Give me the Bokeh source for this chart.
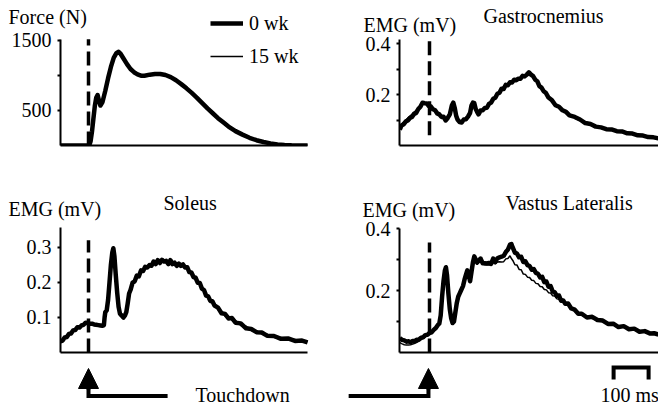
from bokeh.plotting import figure
from bokeh.layouts import column, row
from bokeh.models import (Range1d, FixedTicker, Label, Legend, LegendItem, Arrow,
                          NormalHead, GridBox)
from bokeh.embed import file_html
from bokeh.resources import INLINE

# ---------------- data (time in ms relative to touchdown) ----------------
force_t = [-80, 2, 6, 10, 14, 18, 22, 26, 30, 34,
           40, 48, 56, 64, 72, 80, 86, 92, 100, 110,
           120, 130, 140, 150, 160, 175, 190, 205, 220, 235,
           250, 265, 280, 295, 310, 325, 340, 355, 370, 385,
           400, 420, 440, 460, 480, 500, 520, 540, 560, 580,
           626]
force_0wk = [0, 0, 60, 200, 380, 560, 680, 720, 640, 570,
             620, 780, 960, 1120, 1250, 1320, 1335, 1305, 1240, 1160,
             1090, 1045, 1015, 995, 995, 1010, 1020, 1020, 1005, 975,
             930, 875, 815, 750, 680, 605, 530, 460, 390, 330,
             270, 205, 155, 110, 75, 50, 30, 15, 7, 2,
             0]
force_15wk = [0, 0, 50, 190, 370, 550, 670, 700, 630, 575,
              630, 790, 970, 1125, 1255, 1325, 1330, 1300, 1235, 1155,
              1085, 1040, 1010, 990, 990, 1005, 1015, 1015, 1000, 970,
              925, 870, 810, 745, 675, 600, 525, 455, 385, 325,
              265, 200, 150, 105, 72, 47, 28, 14, 6, 2,
              0]

gas_t = [-85, -80, -74, -68, -62, -56, -50, -44, -38, -32,
         -26, -20, -14, -8, -2, 4, 10, 16, 22, 28,
         34, 40, 46, 52, 58, 64, 68, 72, 76, 80,
         86, 92, 98, 104, 110, 116, 120, 124, 128, 132,
         136, 140, 146, 152, 158, 164, 170, 176, 182, 188,
         194, 200, 206, 212, 218, 224, 230, 236, 242, 248,
         254, 260, 266, 272, 278, 284, 290, 296, 302, 308,
         314, 320, 326, 332, 340, 350, 360, 370, 380, 390,
         400, 415, 430, 445, 460, 475, 490, 505, 520, 535,
         550, 565, 580, 595, 610, 625, 640, 654]
gas_0wk = [0.062, 0.078, 0.083, 0.094, 0.098, 0.108, 0.112, 0.124, 0.128, 0.143,
           0.152, 0.168, 0.166, 0.165, 0.155, 0.153, 0.142, 0.138, 0.126, 0.122,
           0.112, 0.113, 0.098, 0.108, 0.122, 0.158, 0.168, 0.148, 0.118, 0.102,
           0.092, 0.090, 0.102, 0.103, 0.113, 0.128, 0.157, 0.168, 0.166, 0.143,
           0.132, 0.122, 0.137, 0.138, 0.147, 0.148, 0.163, 0.168, 0.183, 0.187,
           0.203, 0.207, 0.223, 0.222, 0.238, 0.236, 0.248, 0.247, 0.258, 0.256,
           0.262, 0.262, 0.273, 0.271, 0.278, 0.287, 0.278, 0.272, 0.258, 0.252,
           0.233, 0.227, 0.213, 0.207, 0.188, 0.177, 0.158, 0.152, 0.138, 0.132,
           0.118, 0.112, 0.102, 0.088, 0.084, 0.074, 0.071, 0.064, 0.063, 0.056,
           0.055, 0.048, 0.047, 0.040, 0.039, 0.033, 0.032, 0.028]
gas_15wk = [0.070, 0.085, 0.092, 0.100, 0.108, 0.115, 0.122, 0.130, 0.138, 0.146,
            0.158, 0.163, 0.168, 0.162, 0.160, 0.148, 0.146, 0.134, 0.131, 0.118,
            0.116, 0.108, 0.102, 0.104, 0.128, 0.162, 0.172, 0.152, 0.121, 0.099,
            0.089, 0.094, 0.099, 0.106, 0.109, 0.132, 0.153, 0.172, 0.162, 0.147,
            0.128, 0.126, 0.133, 0.142, 0.143, 0.152, 0.158, 0.172, 0.178, 0.192,
            0.198, 0.212, 0.218, 0.227, 0.232, 0.242, 0.244, 0.252, 0.253, 0.262,
            0.258, 0.267, 0.268, 0.276, 0.273, 0.283, 0.282, 0.268, 0.262, 0.248,
            0.237, 0.222, 0.217, 0.203, 0.192, 0.173, 0.162, 0.148, 0.142, 0.128,
            0.122, 0.108, 0.098, 0.092, 0.080, 0.078, 0.068, 0.067, 0.060, 0.058,
            0.052, 0.050, 0.045, 0.042, 0.037, 0.035, 0.030, 0.029]

sol_t = [-80, -74, -68, -62, -56, -50, -44, -38, -32, -26,
         -20, -14, -8, -2, 4, 10, 16, 22, 28, 34,
         40, 44, 46, 48, 52, 56, 60, 64, 68, 71,
         74, 78, 82, 86, 90, 96, 100, 104, 108, 112,
         116, 120, 126, 132, 138, 144, 150, 156, 162, 168,
         174, 180, 186, 192, 198, 204, 210, 216, 222, 228,
         234, 240, 246, 252, 258, 264, 270, 276, 282, 288,
         294, 300, 306, 312, 318, 324, 330, 336, 342, 348,
         354, 360, 370, 380, 390, 400, 410, 420, 435, 450,
         465, 480, 495, 510, 530, 550, 570, 590, 610, 626]
sol_0wk = [0.032, 0.034, 0.043, 0.044, 0.053, 0.054, 0.063, 0.064, 0.072, 0.071,
           0.077, 0.079, 0.085, 0.084, 0.082, 0.082, 0.080, 0.079, 0.078, 0.077,
           0.076, 0.078, 0.100, 0.115, 0.120, 0.150, 0.200, 0.250, 0.285, 0.297,
           0.275, 0.220, 0.170, 0.130, 0.110, 0.105, 0.100, 0.105, 0.115, 0.140,
           0.168, 0.178, 0.199, 0.203, 0.219, 0.217, 0.234, 0.232, 0.244, 0.242,
           0.249, 0.247, 0.259, 0.252, 0.263, 0.255, 0.264, 0.259, 0.261, 0.252,
           0.263, 0.252, 0.256, 0.247, 0.253, 0.247, 0.251, 0.242, 0.243, 0.229,
           0.228, 0.215, 0.213, 0.199, 0.198, 0.182, 0.178, 0.162, 0.160, 0.147,
           0.146, 0.134, 0.128, 0.112, 0.110, 0.097, 0.098, 0.085, 0.083, 0.069,
           0.067, 0.058, 0.057, 0.048, 0.047, 0.039, 0.040, 0.033, 0.034, 0.029]
sol_15wk = [0.028, 0.036, 0.039, 0.047, 0.049, 0.057, 0.059, 0.067, 0.069, 0.074,
            0.074, 0.082, 0.081, 0.087, 0.079, 0.085, 0.077, 0.082, 0.075, 0.080,
            0.074, 0.076, 0.098, 0.112, 0.118, 0.148, 0.198, 0.248, 0.280, 0.292,
            0.270, 0.215, 0.165, 0.125, 0.105, 0.098, 0.095, 0.100, 0.112, 0.145,
            0.162, 0.183, 0.192, 0.208, 0.212, 0.224, 0.227, 0.238, 0.237, 0.248,
            0.243, 0.253, 0.252, 0.258, 0.257, 0.262, 0.257, 0.265, 0.256, 0.258,
            0.257, 0.258, 0.249, 0.253, 0.247, 0.253, 0.245, 0.248, 0.238, 0.235,
            0.222, 0.221, 0.207, 0.205, 0.192, 0.188, 0.172, 0.168, 0.154, 0.153,
            0.140, 0.140, 0.122, 0.118, 0.104, 0.103, 0.092, 0.091, 0.077, 0.075,
            0.063, 0.062, 0.053, 0.052, 0.043, 0.043, 0.036, 0.037, 0.031, 0.031]

vl_t = [-85, -78, -72, -66, -60, -54, -48, -42, -36, -30,
        -24, -18, -12, -6, 0, 6, 12, 18, 24, 28,
        32, 36, 40, 44, 47, 50, 54, 58, 62, 66,
        70, 74, 78, 82, 86, 90, 96, 100, 104, 108,
        112, 116, 120, 124, 128, 132, 136, 140, 146, 152,
        158, 164, 170, 176, 182, 188, 194, 200, 206, 212,
        218, 224, 230, 234, 238, 244, 250, 256, 262, 268,
        274, 280, 286, 292, 298, 304, 310, 316, 322, 328,
        334, 340, 346, 352, 358, 364, 370, 376, 382, 388,
        396, 405, 415, 425, 435, 450, 465, 480, 495, 510,
        525, 540, 555, 570, 585, 600, 615, 631, 642, 654]
vl_0wk = [0.046, 0.041, 0.039, 0.035, 0.036, 0.033, 0.037, 0.037, 0.041, 0.042,
          0.048, 0.049, 0.056, 0.057, 0.063, 0.065, 0.073, 0.079, 0.089, 0.093,
          0.120, 0.180, 0.230, 0.265, 0.275, 0.250, 0.190, 0.140, 0.110, 0.095,
          0.100, 0.130, 0.160, 0.180, 0.190, 0.200, 0.215, 0.235, 0.250, 0.265,
          0.250, 0.230, 0.260, 0.290, 0.310, 0.300, 0.290, 0.295, 0.303, 0.288,
          0.288, 0.287, 0.289, 0.286, 0.303, 0.292, 0.304, 0.307, 0.309, 0.312,
          0.324, 0.332, 0.348, 0.350, 0.338, 0.322, 0.319, 0.307, 0.309, 0.292,
          0.294, 0.282, 0.279, 0.267, 0.269, 0.257, 0.254, 0.242, 0.244, 0.227,
          0.229, 0.212, 0.214, 0.197, 0.194, 0.182, 0.184, 0.167, 0.168, 0.157,
          0.158, 0.142, 0.138, 0.125, 0.125, 0.113, 0.115, 0.105, 0.103, 0.092,
          0.093, 0.082, 0.085, 0.075, 0.077, 0.067, 0.069, 0.061, 0.062, 0.058]
vl_15wk = [0.032, 0.028, 0.025, 0.024, 0.024, 0.025, 0.027, 0.030, 0.033, 0.037,
           0.042, 0.046, 0.050, 0.055, 0.060, 0.066, 0.072, 0.080, 0.088, 0.094,
           0.118, 0.175, 0.225, 0.260, 0.270, 0.245, 0.185, 0.135, 0.105, 0.092,
           0.098, 0.128, 0.158, 0.178, 0.188, 0.198, 0.212, 0.232, 0.248, 0.260,
           0.245, 0.228, 0.255, 0.285, 0.305, 0.295, 0.285, 0.290, 0.295, 0.285,
           0.283, 0.284, 0.282, 0.284, 0.292, 0.286, 0.292, 0.293, 0.292, 0.293,
           0.302, 0.303, 0.312, 0.303, 0.297, 0.283, 0.282, 0.268, 0.267, 0.253,
           0.252, 0.243, 0.242, 0.233, 0.232, 0.223, 0.222, 0.213, 0.212, 0.203,
           0.202, 0.193, 0.192, 0.183, 0.182, 0.173, 0.172, 0.163, 0.164, 0.156,
           0.153, 0.143, 0.133, 0.126, 0.120, 0.114, 0.110, 0.106, 0.099, 0.094,
           0.089, 0.084, 0.081, 0.077, 0.073, 0.069, 0.065, 0.062, 0.060, 0.057]

force_ticks = [500, 1500]
force_minor = [1000]
gas_ticks = [0.2, 0.4]
gas_minor = [0.1, 0.3]
sol_ticks = [0.1, 0.2, 0.3]
vl_ticks = [0.2, 0.4]
vl_minor = [0.1, 0.3]
touchdown = 0
scale_ms = 100
series_labels = ["0 wk", "15 wk"]

# ---------------- styling / layout (page pixel geometry) ----------------
FONT = "Liberation Serif"
FS = "20px"
PX_MS = 0.35          # pixels per ms on the time axes
W0_LINE = 4.5
W15_LINE = 1.5
PAGE_W, PAGE_H = 658, 409
L_TD, R_TD = 88, 429  # page x of touchdown in the left / right column
MID = 6.75            # baseline -> middle of em box, for 20px text


def make_panel(origin, size, frame, td_page, x_axis_end, y_axis_top, y_top_val, ticks, minor):
    ox, oy = origin
    w, h = size
    fl, ft, fr, fb = frame
    xr = Range1d((fl - td_page) / PX_MS, (fr - td_page) / PX_MS)
    yr = Range1d(0, y_top_val * (fb - ft) / (fb - y_axis_top))
    p = figure(width=w, height=h, x_range=xr, y_range=yr, output_backend="svg",
               toolbar_location=None, title=None,
               min_border_left=fl - ox, min_border_right=ox + w - fr,
               min_border_top=ft - oy, min_border_bottom=oy + h - fb)
    p.outline_line_color = None
    p.grid.visible = False
    ya = p.yaxis[0]
    ya.bounds = (0, y_top_val)
    ya.ticker = FixedTicker(ticks=ticks, minor_ticks=minor)
    ya.axis_line_width = 2
    ya.axis_line_color = "black"
    ya.major_tick_in = 0
    ya.major_tick_out = 3
    ya.minor_tick_in = 0
    ya.minor_tick_out = 3
    ya.major_tick_line_width = 2
    ya.minor_tick_line_width = 2
    ya.major_label_standoff = 6
    ya.major_label_text_font = FONT
    ya.major_label_text_font_size = FS
    ya.major_label_text_color = "black"
    xa = p.xaxis[0]
    xa.bounds = (xr.start, (x_axis_end - td_page) / PX_MS)
    xa.ticker = FixedTicker(ticks=[])
    xa.axis_line_width = 2
    xa.axis_line_color = "black"
    xa.major_tick_in = 0
    xa.major_tick_out = 0
    xa.minor_tick_in = 0
    xa.minor_tick_out = 0
    xa.major_label_text_font_size = "0px"
    return p


def dashed(p, y0, y1):
    p.line([touchdown, touchdown], [y0, y1], line_dash="14 6", line_width=3.5, color="black")


def traces(p, t, a, b):
    r0 = p.line(t, a, line_width=W0_LINE, color="black", line_join="round")
    r1 = p.line(t, b, line_width=W15_LINE, color="black")
    return r0, r1


# ---- top-left: force ----
tl = make_panel((0, 0), (330, 175), (60, 0, 330, 146), L_TD, 307, 39, 1515,
                force_ticks, force_minor)
r0, r15 = traces(tl, force_t, force_0wk, force_15wk)
dashed(tl, 0, 1515)
leg = Legend(items=[LegendItem(label=series_labels[0], renderers=[r0]),
                    LegendItem(label=series_labels[1], renderers=[r15])],
             location=(150, 77), glyph_width=33, glyph_height=24, label_height=24,
             spacing=9, padding=0, margin=0, label_standoff=6,
             border_line_color=None, background_fill_alpha=0,
             label_text_font=FONT, label_text_font_size=FS, label_text_color="black")
tl.add_layout(leg)

# ---- top-right: gastrocnemius ----
tr = make_panel((330, 0), (328, 175), (399, 0, 658, 145), R_TD, 658, 39, 0.4157,
                gas_ticks, gas_minor)
traces(tr, gas_t, gas_0wk, gas_15wk)
dashed(tr, 0.04, 0.4157)

# ---- bottom-left: soleus ----
bl = make_panel((0, 175), (330, 234), (60, 175, 330, 353), L_TD, 307, 227, 0.357,
                sol_ticks, [])
traces(bl, sol_t, sol_0wk, sol_15wk)
dashed(bl, 0, 0.32)

# ---- bottom-right: vastus lateralis ----
br = make_panel((330, 175), (328, 234), (399, 175, 658, 352), R_TD, 658, 228, 0.4,
                vl_ticks, vl_minor)
traces(br, vl_t, vl_0wk, vl_15wk)
dashed(br, 0, 0.355)

panels = column(row(tl, tr, spacing=0), row(bl, br, spacing=0), spacing=0)

# ---- transparent overlay carrying the free texts and the touchdown / scale marks ----
ov = figure(width=PAGE_W, height=PAGE_H, output_backend="svg", toolbar_location=None,
            title=None, x_axis_location=None, y_axis_location=None, min_border=0,
            x_range=Range1d(0, PAGE_W), y_range=Range1d(PAGE_H, 0))
ov.extra_x_ranges = {"lt": Range1d(-L_TD / PX_MS, (PAGE_W - L_TD) / PX_MS),
                     "rt": Range1d(-R_TD / PX_MS, (PAGE_W - R_TD) / PX_MS)}
ov.outline_line_color = None
ov.grid.visible = False
ov.background_fill_color = None
ov.border_fill_color = None


def text(s, px, baseline_y, align="left"):
    ov.add_layout(Label(x=px, y=baseline_y - MID, text=s, text_font=FONT, text_font_size=FS,
                        text_align=align, text_baseline="middle", text_color="black"))


text("Force (N)", 8, 23.5)
text("EMG (mV)", 363, 31.5)
text("Gastrocnemius", 483, 22.5)
text("EMG (mV)", 8, 215.5)
text("Soleus", 163, 209.5)
text("EMG (mV)", 362, 216)
text("Vastus Lateralis", 505, 209.5)
text("Touchdown", 195, 401.5)
text(f"{scale_ms} ms", 600, 401.5)

head = dict(size=20, fill_color="black", line_color="black", line_width=1)
# left touchdown marker (left-column time), right marker (right-column time)
ov.line([226, touchdown, touchdown], [395.5, 395.5, 387], line_width=4, color="black",
        line_join="miter", x_range_name="lt")
ov.add_layout(Arrow(end=NormalHead(**head), x_start=touchdown, y_start=389,
                    x_end=touchdown, y_end=368, line_width=4, line_color="black",
                    x_range_name="lt"))
ov.line([-231, touchdown - 3, touchdown - 3], [395.5, 395.5, 387], line_width=4,
        color="black", line_join="miter", x_range_name="rt")
ov.add_layout(Arrow(end=NormalHead(**head), x_start=touchdown - 3, y_start=389,
                    x_end=touchdown - 3, y_end=368, line_width=4, line_color="black",
                    x_range_name="rt"))

# 100 ms scale bar (right-column time)
sb0 = 526
ov.line([sb0, sb0, sb0 + scale_ms, sb0 + scale_ms], [379, 367, 367, 379], line_width=4,
        color="black", line_join="miter", x_range_name="rt")

root = GridBox(children=[(panels, 0, 0), (ov, 0, 0)])
open("out.html", "w").write(file_html(root, INLINE))
